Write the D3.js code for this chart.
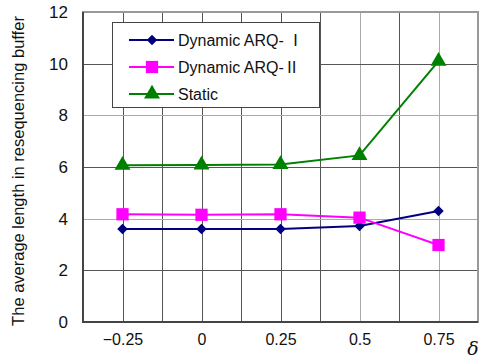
<!DOCTYPE html>
<html>
<head>
<meta charset="utf-8">
<script src="https://cdn.jsdelivr.net/npm/d3@7"></script>
<style>
  body { margin: 0; background: #fff; }
  text { font-family: "Liberation Sans", Arial, "Noto Sans CJK JP", sans-serif; fill: #111; }
  .cjk { font-family: "Noto Sans CJK JP", sans-serif; }
</style>
</head>
<body>
<svg id="chart" width="481" height="358"></svg>
<script>
const deltas = [-0.25, 0, 0.25, 0.5, 0.75];
const xTicks = [-0.25, 0, 0.25, 0.5, 0.75];
const xTickLabels = ['\u22120.25', '0', '0.25', '0.5', '0.75'];
const yTicks = [0, 2, 4, 6, 8, 10, 12];
const seriesNames = ['Dynamic ARQ-', 'Dynamic ARQ-', 'Static'];
const seriesNumerals = [' \u2160', '\u2161', ''];
const arq1 = [3.6, 3.6, 3.6, 3.72, 4.3];
const arq2 = [4.17, 4.15, 4.17, 4.04, 2.98];
const staticVals = [6.07, 6.08, 6.1, 6.45, 10.1];

const colors = ['#000080', '#ff00ff', '#008000'];
const symbols = [d3.symbolDiamond2, d3.symbolSquare, d3.symbolTriangle];
const symSizes = [70, 150, 110];

const margin = { top: 12, right: 3, bottom: 36, left: 83 };
const width = 481 - margin.left - margin.right;
const height = 358 - margin.top - margin.bottom;

const svg = d3.select('#chart')
  .append('g')
  .attr('transform', `translate(${margin.left},${margin.top})`);

const x = d3.scaleLinear().domain([-0.375, 0.875]).range([0, width]);
const y = d3.scaleLinear().domain([0, 12]).range([height, 0]);

// grid
const xGrid = d3.range(-0.25, 0.76, 0.125);
svg.append('g').selectAll('line').data(xGrid).join('line')
  .attr('x1', d => Math.round(x(d)) + 0.5).attr('x2', d => Math.round(x(d)) + 0.5)
  .attr('y1', 0).attr('y2', height)
  .attr('stroke', d => (d > 0.4 && Math.abs(d * 4 - Math.round(d * 4)) < 1e-6) ? '#aaa' : '#555')
  .attr('stroke-width', 1);
svg.append('g').selectAll('line').data(yTicks.slice(1, -1)).join('line')
  .attr('x1', 0).attr('x2', width)
  .attr('y1', d => Math.round(y(d)) + 0.5).attr('y2', d => Math.round(y(d)) + 0.5)
  .attr('stroke', d => (d === 4 || d === 8) ? '#aaa' : '#555')
  .attr('stroke-width', 1);

// border
svg.append('rect').attr('x', 0).attr('y', 0).attr('width', width).attr('height', height)
  .attr('fill', 'none').attr('stroke', '#999').attr('stroke-width', 2);
svg.append('path')
  .attr('d', `M0,0V${height}H${width}`)
  .attr('fill', 'none').attr('stroke', '#444').attr('stroke-width', 2);

// y axis labels
const yAxis = d3.axisLeft(y).tickValues(yTicks).tickSize(0).tickPadding(15);
svg.append('g').call(yAxis)
  .call(g => g.select('.domain').remove())
  .selectAll('text')
  .style('font-size', '17px').attr('fill', '#111');

// x axis labels
const xAxis = d3.axisBottom(x).tickValues(xTicks).tickSize(0).tickPadding(12)
  .tickFormat((d, i) => xTickLabels[i]);
svg.append('g').attr('transform', `translate(0,${height})`).call(xAxis)
  .call(g => g.select('.domain').remove())
  .selectAll('text')
  .style('font-size', '16px').attr('fill', '#111');

// axis titles
d3.select('#chart').append('text')
  .attr('transform', `translate(20,${margin.top + height / 2 + 4}) rotate(-90)`)
  .attr('text-anchor', 'middle').attr('dominant-baseline', 'middle')
  .style('font-size', '16.5px')
  .text('The average length in resequencing buffer');
d3.select('#chart').append('text')
  .attr('x', 473).attr('y', 355)
  .attr('text-anchor', 'middle')
  .style('font-size', '19px').style('font-style', 'italic')
  .style('font-family', '"DejaVu Serif", serif')
  .text('\u03b4');

// series
const allSeries = [arq1, arq2, staticVals];
const line = d3.line().x((d, i) => x(deltas[i])).y(d => y(d));

allSeries.forEach((vals, s) => {
  svg.append('path').datum(vals)
    .attr('fill', 'none').attr('stroke', colors[s]).attr('stroke-width', 2)
    .attr('d', line);
  svg.append('g').selectAll('path').data(vals).join('path')
    .attr('transform', (d, i) => `translate(${x(deltas[i])},${y(d)})`)
    .attr('d', d3.symbol().type(symbols[s]).size(symSizes[s]))
    .attr('fill', colors[s]);
});

// legend
const legend = d3.select('#chart').append('g').attr('transform', 'translate(112,22)');
legend.append('rect').attr('x', 0.5).attr('y', 0.5).attr('width', 207).attr('height', 85)
  .attr('fill', '#fff').attr('stroke', '#444').attr('stroke-width', 1);
seriesNames.forEach((name, s) => {
  const ly = 18 + s * 27;
  legend.append('line').attr('x1', 17).attr('x2', 62).attr('y1', ly).attr('y2', ly)
    .attr('stroke', colors[s]).attr('stroke-width', 2);
  legend.append('path').attr('transform', `translate(40,${ly})`)
    .attr('d', d3.symbol().type(symbols[s]).size(symSizes[s]))
    .attr('fill', colors[s]);
  const t = legend.append('text').attr('x', 66).attr('y', ly).attr('dy', '0.36em')
    .style('font-size', '16px').text(name);
  if (seriesNumerals[s]) t.append('tspan').attr('class', 'cjk').text(seriesNumerals[s]);
});
</script>
</body>
</html>
